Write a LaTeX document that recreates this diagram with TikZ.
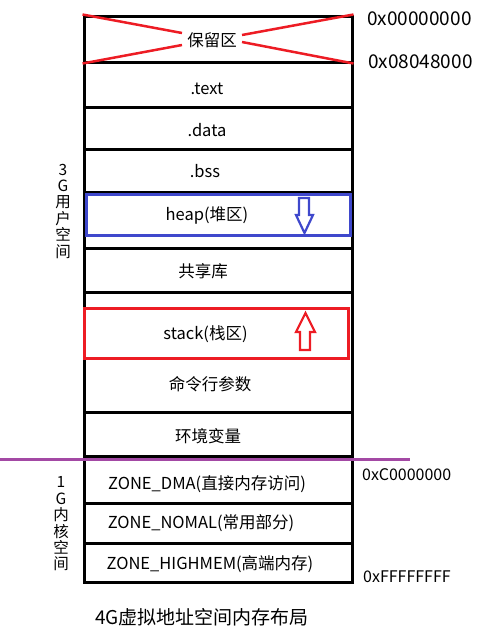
\documentclass[tikz,border=0pt]{standalone}
\usepackage{fontspec}
\setmainfont{Noto Sans CJK SC}
\definecolor{xred}{HTML}{ED1C24}
\definecolor{xblue}{HTML}{3F48CC}
\definecolor{xpurple}{HTML}{A349A4}
\tikzset{
  row/.style={draw=black, line width=3pt, minimum width=268pt, inner sep=0pt},
  hilite/.style={line width=3pt, minimum width=264pt, inner sep=0pt},
  lbl/.style={inner sep=0pt, anchor=base, font=\fontsize{16.5}{18}\selectfont},
  addr/.style={inner sep=0pt, anchor=base west, font=\fontsize{19}{21}\selectfont},
  addrs/.style={addr, font=\fontsize{16}{18}\selectfont},
  side/.style={inner sep=0pt, align=center, font=\fontsize{15.5}{16.4}\selectfont},
  xline/.style={draw=xred, line width=2.5pt},
  arr/.style={line width=2.2pt, line join=miter}
}
\begin{document}
\begin{tikzpicture}[x=1pt,y=-1pt]
\useasboundingbox (0,0) rectangle (483,635);
% user space rows
\node[row, minimum height=46pt] (res) at (218,39) {};
\node[row, minimum height=45pt] (text) at (218,84.5) {};
\node[row, minimum height=42pt] (data) at (218,128) {};
\node[row, minimum height=43pt] (bss) at (218,170.5) {};
\node[row, minimum height=56pt] (gap1) at (218,220) {};
\node[row, minimum height=44pt] (shlib) at (218,270) {};
\node[row, minimum height=120pt] (gap2) at (218,352) {};
\node[row, minimum height=44pt] (env) at (218,434) {};
% kernel rows
\node[row, minimum height=45pt] (dma) at (218,480.5) {};
\node[row, minimum height=40pt] (nomal) at (218,523) {};
\node[row, minimum height=39pt] (high) at (218,562.5) {};
% heap and stack boxes
\node[hilite, draw=xblue, minimum height=41pt] (heap) at (218,214.5) {};
\node[hilite, draw=xred, minimum height=50pt] (stack) at (216,333) {};
% labels
\node[lbl] (resl) at (212,46) {保留区};
\node[lbl] (textl) at (207,94) {.text};
\node[lbl] (datal) at (207,136) {.data};
\node[lbl] (bssl) at (205,177) {.bss};
\node[lbl] (heapl) at (207,220) {heap(堆区)};
\node[lbl] (shlibl) at (203,277) {共享库};
\node[lbl] (stackl) at (205.5,339) {stack(栈区)};
\node[lbl] (cmd) at (210,390) {命令行参数};
\node[lbl] (envl) at (208,442) {环境变量};
\node[lbl] (dmal) at (207,489) {ZONE\_DMA(直接内存访问)};
\node[lbl] (nomall) at (201,528) {ZONE\_NOMAL(常用部分)};
\node[lbl] (highl) at (210,569) {ZONE\_HIGHMEM(高端内存)};
% reserved area cross
\coordinate (xl1) at (182,33);
\coordinate (xl2) at (182,45);
\coordinate (xr1) at (242,35);
\coordinate (xr2) at (242,42);
\draw[xline] (res.north west) -- (xl1);
\draw[xline] (res.south west) -- (xl2);
\draw[xline] (res.north east) -- (xr1);
\draw[xline] (res.south east) -- (xr2);
% arrows
\draw[arr, xblue] (299,198) -- (309,198) -- (309,215) -- (313,215) -- (304.5,233) -- (296,215) -- (299,215) -- cycle;
\draw[arr, xred] (300,350) -- (310,350) -- (310,332) -- (315,332) -- (305.5,313) -- (296,332) -- (300,332) -- cycle;
% divider
\coordinate (divL) at (0,459);
\coordinate (divR) at (410,459);
\draw[xpurple, line width=3pt] (divL) -- (divR);
% addresses
\node[addr] (a0) at (367,25) {0x00000000};
\node[addr] (a1) at (368,68.5) {0x08048000};
\node[addrs] (a2) at (362,480) {0xC0000000};
\node[addrs] (a3) at (363,582) {0xFFFFFFFF};
% side labels
\node[side] (user) at (63,211) {3\\G\\用\\户\\空\\间};
\node[side] (kern) at (61,524) {1\\G\\内\\核\\空\\间};
% caption
\node[inner sep=0pt, anchor=base west, font=\fontsize{19}{21}\selectfont] (cap) at (95,624) {4G虚拟地址空间内存布局};
\end{tikzpicture}
\end{document}
